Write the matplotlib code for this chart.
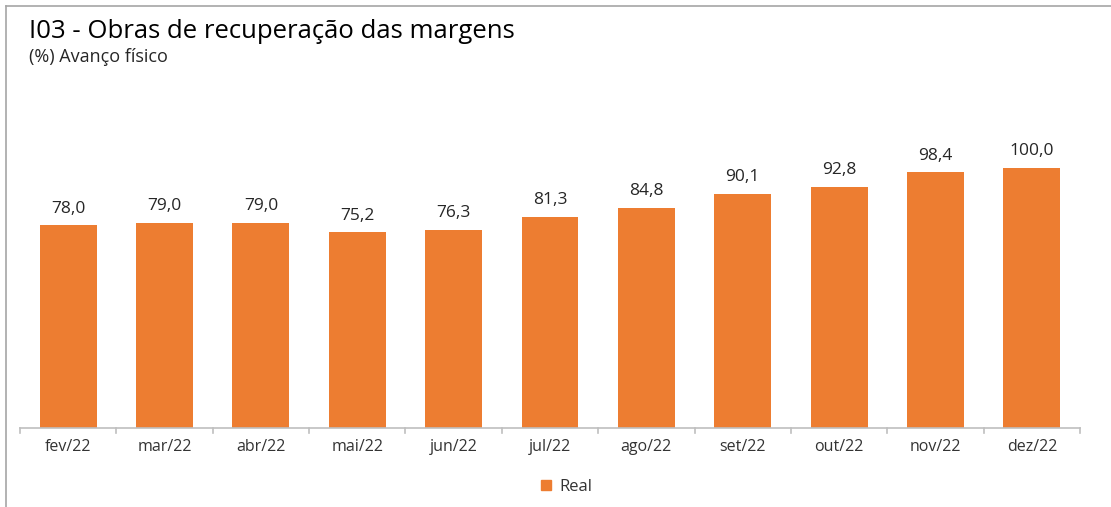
import matplotlib.pyplot as plt
from matplotlib.lines import Line2D
from matplotlib.patches import Patch

meses = ["fev/22", "mar/22", "abr/22", "mai/22", "jun/22", "jul/22",
         "ago/22", "set/22", "out/22", "nov/22", "dez/22"]
real = [78.0, 79.0, 79.0, 75.2, 76.3, 81.3, 84.8, 90.1, 92.8, 98.4, 100.0]

laranja = "#ED7D31"
texto = "#333333"
eixo = "#BFBFBF"

plt.rcParams["font.family"] = ["Open Sans", "DejaVu Sans"]

W, H = 1111, 507
fig = plt.figure(figsize=(W / 100, H / 100), dpi=100)

# moldura (topo e lado esquerdo)
fig.add_artist(Line2D([6 / W, 6 / W], [0, 1 - 6 / H], color="#A6A6A6", lw=1.2))
fig.add_artist(Line2D([6 / W, 1], [1 - 6 / H, 1 - 6 / H], color="#A6A6A6", lw=1.2))

fig.text(29 / W, 1 - 32 / H, "I03 - Obras de recuperação das margens",
         fontsize=18.5, color="black", va="center")
fig.text(29 / W, 1 - 57 / H, "(%) Avanço físico",
         fontsize=13, color="#262626", va="center")

ax = fig.add_axes([20 / W, 79 / H, 1060 / W, 340 / H])
x = range(len(meses))
barras = ax.bar(x, real, width=0.59, color=laranja)
for b, v in zip(barras, real):
    ax.text(b.get_x() + b.get_width() / 2, v + 3.3, f"{v:.1f}".replace(".", ","),
            ha="center", va="bottom", fontsize=12.5, color="#262626")

ax.set_xlim(-0.5, len(meses) - 0.5)
ax.set_ylim(0, 340 / 2.6)
ax.set_xticks(list(x))
ax.set_xticklabels(meses, fontsize=11.5, color=texto)
ax.tick_params(axis="x", length=0, pad=8)
ax.set_yticks([])
for lado in ["top", "right", "left"]:
    ax.spines[lado].set_visible(False)
ax.spines["bottom"].set_color(eixo)
ax.spines["bottom"].set_linewidth(1.2)

# marcas entre categorias
for i in range(len(meses) + 1):
    ax.plot([i - 0.5, i - 0.5], [0, -2.0], color=eixo, lw=1.2, clip_on=False)

fig.legend(handles=[Patch(color=laranja, label="Real")], loc="center",
           bbox_to_anchor=(567 / W, 1 - 487 / H), frameon=False,
           fontsize=12, handlelength=0.6, handleheight=0.6, handletextpad=0.5,
           labelcolor=texto)

fig.savefig("out.png", dpi=100, facecolor="white")
